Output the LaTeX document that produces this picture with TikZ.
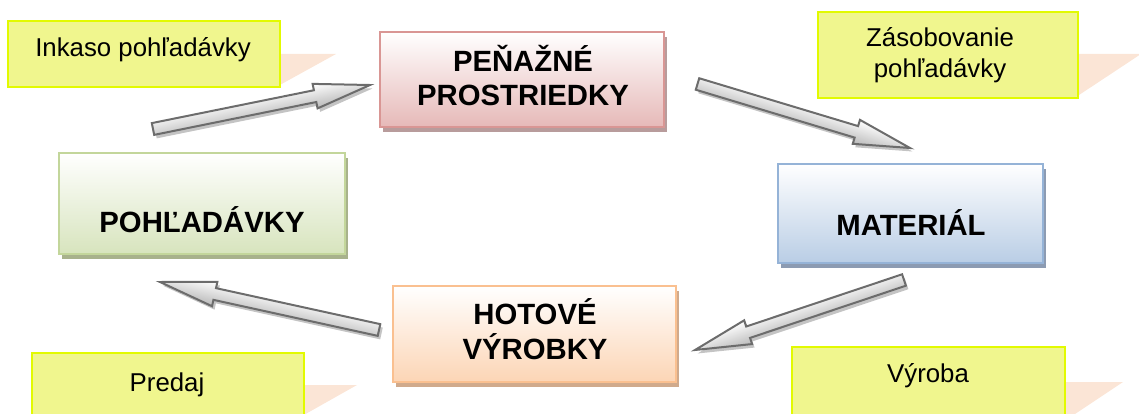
\documentclass[tikz,border=0pt]{standalone}
\usepackage{fontspec}
\setmainfont{Liberation Sans}
\usetikzlibrary{calc,shadows}

% box colours
\definecolor{cashline}{RGB}{217,150,148}
\definecolor{cashfill}{RGB}{230,185,184}
\definecolor{cashshadow}{RGB}{184,156,156}
\definecolor{recline}{RGB}{195,214,155}
\definecolor{recfill}{RGB}{215,228,189}
\definecolor{recshadow}{RGB}{168,178,140}
\definecolor{matline}{RGB}{149,179,215}
\definecolor{matfill}{RGB}{185,205,229}
\definecolor{matshadow}{RGB}{140,155,178}
\definecolor{prodline}{RGB}{250,192,144}
\definecolor{prodfill}{RGB}{252,213,181}
\definecolor{prodshadow}{RGB}{208,170,140}
% callouts
\definecolor{noteline}{RGB}{226,250,0}
\definecolor{notefill}{RGB}{240,246,142}
\definecolor{wedgefill}{RGB}{251,229,214}
% block arrows
\definecolor{arrowedge}{RGB}{108,108,108}
\definecolor{arrowdark}{RGB}{185,185,185}
\definecolor{arrowshade}{RGB}{196,196,196}

\newcommand\boxfont{\fontsize{29.3}{34.5}\selectfont\bfseries}
\newcommand\notefont{\fontsize{25.8}{31}\selectfont}
\newcommand\arrheadlen{56}

% block arrow from coordinate #1 (tail) to coordinate #2 (tip)
\newcommand\blockarrow[2]{%
  \pgfpointdiff{\pgfpointanchor{#1}{center}}{\pgfpointanchor{#2}{center}}%
  \pgfgetlastxy{\arrdx}{\arrdy}%
  \pgfmathsetmacro\arrang{atan2(\arrdy,\arrdx)}%
  \pgfmathsetmacro\arrlen{veclen(\arrdx,\arrdy)}%
  \pgfmathsetmacro\arrbase{\arrlen-\arrheadlen}%
  \ifdim\arrdx<0pt \def\arrtop{arrowdark}\def\arrbot{white}\else\def\arrtop{white}\def\arrbot{arrowdark}\fi
  \begin{scope}[transform canvas={shift={($(#1)+(2.5,3.5)$)},rotate=\arrang}]
    \fill[arrowshade] (0pt,6pt) -- (\arrbase pt,6pt) -- (\arrbase pt,12.5pt) -- (\arrlen pt,0pt)
      -- (\arrbase pt,-12.5pt) -- (\arrbase pt,-6pt) -- (0pt,-6pt) -- cycle;
  \end{scope}
  \begin{scope}[transform canvas={shift={(#1)},rotate=\arrang}]
    \draw[arrowbody, top color=\arrtop, bottom color=\arrbot]
      (0pt,6pt) -- (\arrbase pt,6pt) -- (\arrbase pt,12.5pt) -- (\arrlen pt,0pt)
      -- (\arrbase pt,-12.5pt) -- (\arrbase pt,-6pt) -- (0pt,-6pt) -- cycle;
  \end{scope}}

\begin{document}
\begin{tikzpicture}[x=1pt,y=-1pt,
  mainbox/.style n args={3}{rectangle, inner sep=0pt, line width=1.6pt, draw=#1,
    top color=white, bottom color=#2,
    drop shadow={shadow xshift=3pt, shadow yshift=-5pt, fill=#3, opacity=1}},
  note/.style={rectangle, inner sep=0pt, line width=2pt, draw=noteline, fill=notefill},
  wedge/.style={fill=wedgefill},
  boxlabel/.style={inner sep=0pt, align=center, font=\boxfont},
  notelabel/.style={inner sep=0pt, align=center, font=\notefont},
  arrowbody/.style={draw=arrowedge, line width=2pt, line join=miter}]

\useasboundingbox (0,0) rectangle (1139,414);
\clip (0,0) rectangle (1139,414);

% callout pointers
\fill[wedge] (278,54) -- (336,54) -- (278,86) -- cycle;
\fill[wedge] (1076,54) -- (1141,54) -- (1076,97) -- cycle;
\fill[wedge] (302,385) -- (357,385) -- (302,416) -- cycle;
\fill[wedge] (1063,382) -- (1123,382) -- (1063,422) -- cycle;

% callouts
\node[note, minimum width=272pt, minimum height=66pt] (inkaso) at (144,54) {};
\node[note, minimum width=260pt, minimum height=86pt] (zasob) at (948,55) {};
\node[note, minimum width=272pt, minimum height=72pt] (predaj) at (168,389) {};
\node[note, minimum width=273pt, minimum height=78pt] (vyroba) at (928.5,386) {};

% multi-line labels are placed by the baseline of their last line
\node[notelabel, anchor=base] (inkasotxt) at (143,57) {Inkaso pohľadávky};
\node[notelabel, anchor=base] (zasobtxt) at (940,78) {Zásobovanie\\pohľadávky};
\node[notelabel, anchor=base] (predajtxt) at (167,391) {Predaj};
\node[notelabel, anchor=base] (vyrobatxt) at (928,382) {Výroba};

% stages of the cycle
\node[mainbox={cashline}{cashfill}{cashshadow}, minimum width=284pt, minimum height=95pt] (cash) at (522,79.5) {};
\node[mainbox={recline}{recfill}{recshadow}, minimum width=286pt, minimum height=101pt] (rec) at (202,203.5) {};
\node[mainbox={matline}{matfill}{matshadow}, minimum width=265pt, minimum height=99pt] (mat) at (910.5,213.5) {};
\node[mainbox={prodline}{prodfill}{prodshadow}, minimum width=283pt, minimum height=96pt] (prod) at (534.5,334) {};

\node[boxlabel, anchor=base] (cashtxt) at (523,106) {PEŇAŽNÉ\\PROSTRIEDKY};
\node[boxlabel, anchor=base] (rectxt) at (202,232) {POHĽADÁVKY};
\node[boxlabel, anchor=base] (mattxt) at (911,235) {MATERIÁL};
\node[boxlabel, anchor=base] (prodtxt) at (535,359) {HOTOVÉ\\VÝROBKY};

% arrow ends
\coordinate (a1t) at (153,129);
\coordinate (a1h) at (370,85);
\coordinate (a2t) at (697.5,84);
\coordinate (a2h) at (910,148);
\coordinate (a3t) at (904,280);
\coordinate (a3h) at (695,350);
\coordinate (a4t) at (379,330);
\coordinate (a4h) at (160,282);

\blockarrow{a1t}{a1h}
\blockarrow{a2t}{a2h}
\blockarrow{a3t}{a3h}
\blockarrow{a4t}{a4h}
\end{tikzpicture}
\end{document}
